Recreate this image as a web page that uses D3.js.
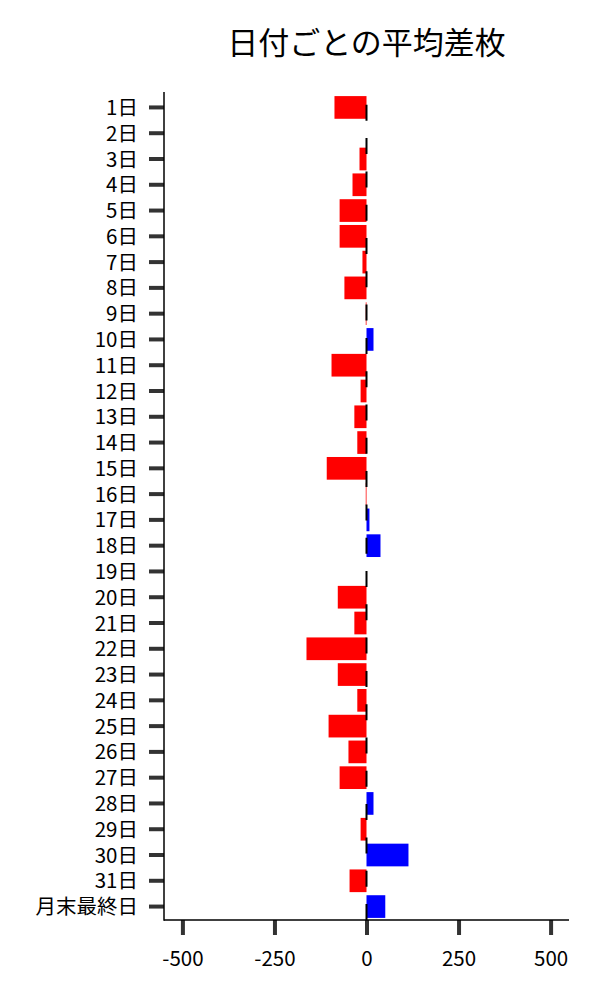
<!DOCTYPE html>
<html>
<head>
<meta charset="utf-8">
<script src="https://cdn.jsdelivr.net/npm/d3@7"></script>
<style>
  body { margin: 0; background: #fff; }
  svg text { font-family: "Noto Sans CJK JP", "Noto Sans", sans-serif; }
</style>
</head>
<body>
<svg id="chart" width="600" height="1000"></svg>
<script>
const title = "日付ごとの平均差枚";
const categories = ["1日","2日","3日","4日","5日","6日","7日","8日","9日","10日",
  "11日","12日","13日","14日","15日","16日","17日","18日","19日","20日",
  "21日","22日","23日","24日","25日","26日","27日","28日","29日","30日","31日","月末最終日"];
const values = [-87, 0, -19, -38, -73, -73, -11, -60, -2, 19,
  -95, -16, -33, -25, -108, -2, 8, 38, 0, -78,
  -33, -163, -78, -25, -103, -49, -73, 19, -16, 114, -46, 51];
const xTicks = [-500, -250, 0, 250, 500];
const xDomain = [-550, 550];

(function () {
const svg = d3.select("#chart");
const pl = 164, pr = 569, pt = 92, pb = 920;

const x = d3.scaleLinear().domain(xDomain).range([pl, pr]);
const y = d3.scaleBand().domain(categories).range([pt + 1, pb + 1])
  .paddingInner(0.12).paddingOuter(0.12);

const data = categories.map((c, i) => ({ c, v: values[i] }));

svg.append("g").selectAll("rect").data(data).enter().append("rect")
  .attr("x", d => x(Math.min(0, d.v)))
  .attr("width", d => Math.abs(x(d.v) - x(0)))
  .attr("y", d => y(d.c))
  .attr("height", y.bandwidth())
  .attr("fill", d => d.v >= 0 ? "#0000ff" : "#ff0000");

// zero dashed line (drawn bottom to top)
svg.append("line")
  .attr("x1", x(0)).attr("x2", x(0))
  .attr("y1", pb).attr("y2", pt)
  .attr("stroke", "#000").attr("stroke-width", 2)
  .attr("stroke-dasharray", "16,17.3");

// y axis
const gy = svg.append("g").attr("transform", `translate(${pl},0)`)
  .call(d3.axisLeft(y).tickSize(15).tickPadding(11).tickSizeOuter(0));
gy.select(".domain").remove();
gy.selectAll(".tick line").attr("stroke", "#333").attr("stroke-width", 4);
gy.selectAll(".tick text").attr("font-size", 20.5).attr("fill", "#000").attr("dy", "0.37em");

// x axis
const gx = svg.append("g").attr("transform", `translate(0,${pb})`)
  .call(d3.axisBottom(x).tickValues(xTicks).tickFormat(d => String(d))
    .tickSize(15).tickPadding(16).tickSizeOuter(0));
gx.select(".domain").remove();
gx.selectAll(".tick line").attr("stroke", "#333").attr("stroke-width", 4);
gx.selectAll(".tick text").attr("font-size", 20.5).attr("fill", "#000");

// spines
svg.append("line").attr("x1", pl).attr("x2", pl).attr("y1", pt).attr("y2", pb + 0.75)
  .attr("stroke", "#000").attr("stroke-width", 1.5);
svg.append("line").attr("x1", pl).attr("x2", pr).attr("y1", pb).attr("y2", pb)
  .attr("stroke", "#000").attr("stroke-width", 1.5);

// title
svg.append("text").attr("x", (pl + pr) / 2).attr("y", 54)
  .attr("text-anchor", "middle").attr("font-size", 31).attr("fill", "#000")
  .text(title);
})();
</script>
</body>
</html>
